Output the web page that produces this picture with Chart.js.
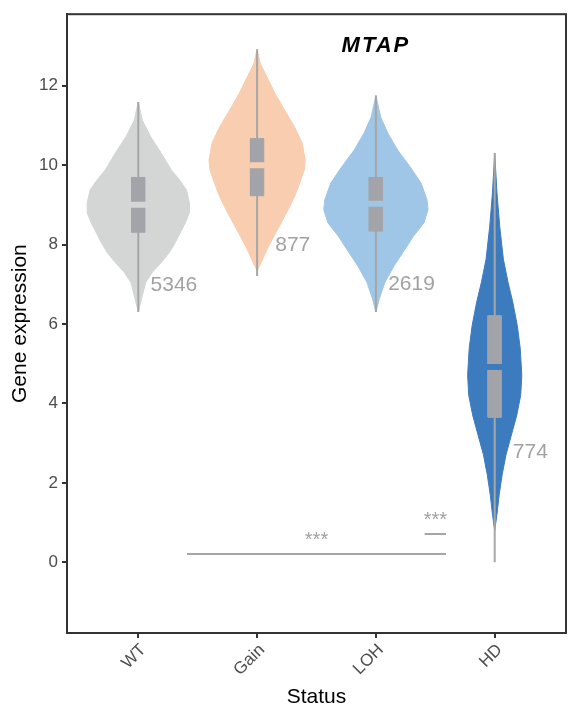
<!DOCTYPE html>
<html><head><meta charset="utf-8">
<script src="https://cdn.jsdelivr.net/npm/chart.js@4"></script>
<style>html,body{margin:0;padding:0;background:#fff}#wrap{width:576px;height:720px;position:relative}</style>
</head><body><div id="wrap"><canvas id="c"></canvas></div>
<script>
const categories = ['WT', 'Gain', 'LOH', 'HD'];
const counts = [5346, 877, 2619, 774];
const yTicks = [0, 2, 4, 6, 8, 10, 12];

// violin outlines: y levels and half-widths (in category units)
const wtY = [11.59, 11.13, 10.71, 10.30, 9.88, 9.63, 9.38, 9.05, 8.80, 8.55, 8.30, 8.05, 7.80, 7.55, 7.30, 7.05, 6.71, 6.30];
const wtW = [0, 0.034, 0.105, 0.194, 0.278, 0.346, 0.405, 0.430, 0.430, 0.397, 0.354, 0.312, 0.262, 0.194, 0.118, 0.063, 0.034, 0];
const gainY = [12.92, 12.55, 12.21, 11.80, 11.38, 10.96, 10.55, 10.13, 9.88, 9.55, 9.21, 8.88, 8.55, 8.21, 7.88, 7.55, 7.34];
const gainW = [0, 0.028, 0.084, 0.152, 0.232, 0.316, 0.380, 0.405, 0.397, 0.359, 0.316, 0.262, 0.203, 0.141, 0.084, 0.034, 0];
const lohY = [11.75, 11.21, 10.80, 10.38, 9.96, 9.55, 9.13, 8.88, 8.55, 8.21, 7.88, 7.46, 7.05, 6.63, 6.30];
const lohW = [0, 0.040, 0.101, 0.183, 0.287, 0.380, 0.430, 0.439, 0.405, 0.316, 0.245, 0.152, 0.076, 0.028, 0];
const hdY = [10.30, 9.30, 8.46, 7.63, 7.05, 6.55, 5.96, 5.38, 4.71, 4.21, 3.71, 3.21, 2.71, 2.21, 1.71, 1.21, 0.80];
const hdW = [0, 0.019, 0.042, 0.073, 0.112, 0.152, 0.190, 0.215, 0.228, 0.219, 0.186, 0.141, 0.095, 0.063, 0.038, 0.019, 0];

// box statistics
const boxQ1 = [8.31, 9.23, 8.34, 3.65];
const boxMedian = [9.00, 10.00, 9.03, 4.92];
const boxQ3 = [9.69, 10.67, 9.69, 6.21];
const lineMin = [6.30, 7.21, 6.30, 0.00];
const lineMax = [11.59, 12.92, 11.75, 10.30];

// count labels and significance brackets
const countLabelY = [6.98, 7.98, 7.00, 2.78];
const sigStart = [1.41, 3.41];
const sigEnd = [3.59, 3.59];
const sigY = [0.21, 0.71];
const sigLabel = ['***', '***'];
const titleText = 'MTAP';
const titleX = 3.0, titleY = 13.0;

// ---- styles ----
const violinColors = ['#d4d6d6', '#f8cdb0', '#9fc6e6', '#3d7bbf'];
const boxColor = '#a3a4a9';
const lineColor = '#a6a6a6';
const FONT = '"Liberation Sans", Arial, Helvetica, sans-serif';
const BOX_HALF = 0.056;

const violinYs = [wtY, gainY, lohY, hdY];
const violinWs = [wtW, gainW, lohW, hdW];

const datasets = [];
violinYs.forEach((ys, i) => {
  const c = i + 1, ws = violinWs[i];
  const pts = [];
  ys.forEach((y, k) => pts.push({x: c + ws[k], y}));
  for (let k = ys.length - 1; k >= 0; k--) pts.push({x: c - ws[k], y: ys[k]});
  datasets.push({data: pts, showLine: true, fill: 'shape', backgroundColor: violinColors[i],
    borderColor: violinColors[i], borderWidth: 1, pointRadius: 0, order: 10});
});
categories.forEach((cat, i) => {
  const c = i + 1;
  datasets.push({data: [{x: c, y: lineMin[i]}, {x: c, y: lineMax[i]}], showLine: true, fill: false,
    borderColor: lineColor, borderWidth: 2, pointRadius: 0, order: 8});
  datasets.push({data: [{x: c - BOX_HALF, y: boxQ1[i]}, {x: c + BOX_HALF, y: boxQ1[i]}, {x: c + BOX_HALF, y: boxQ3[i]}, {x: c - BOX_HALF, y: boxQ3[i]}, {x: c - BOX_HALF, y: boxQ1[i]}],
    showLine: true, fill: 'shape', backgroundColor: boxColor, borderColor: boxColor, borderWidth: 1, pointRadius: 0, order: 6});
  datasets.push({data: [{x: c - BOX_HALF - 0.01, y: boxMedian[i]}, {x: c + BOX_HALF + 0.01, y: boxMedian[i]}], showLine: true, fill: false,
    borderColor: violinColors[i], borderWidth: 6, borderCapStyle: 'butt', pointRadius: 0, order: 4});
});
sigStart.forEach((s, i) => {
  datasets.push({data: [{x: s, y: sigY[i]}, {x: sigEnd[i], y: sigY[i]}], showLine: true, fill: false,
    borderColor: lineColor, borderWidth: 2, pointRadius: 0, order: 4});
});

const annot = {
  id: 'annot',
  afterDatasetsDraw(chart) {
    const {ctx, chartArea: a, scales: {x, y}} = chart;
    ctx.save();
    ctx.strokeStyle = '#333333'; ctx.lineWidth = 2;
    ctx.strokeRect(a.left, a.top, a.right - a.left, a.bottom - a.top);
    ctx.fillStyle = '#a2a2a2';
    ctx.font = '21px ' + FONT;
    ctx.textAlign = 'center'; ctx.textBaseline = 'middle';
    counts.forEach((n, i) => ctx.fillText(String(n), x.getPixelForValue(i + 1.3), y.getPixelForValue(countLabelY[i])));
    ctx.font = '20px ' + FONT; ctx.textBaseline = 'alphabetic';
    sigLabel.forEach((s, i) => ctx.fillText(s, x.getPixelForValue((sigStart[i] + sigEnd[i]) / 2), y.getPixelForValue(sigY[i]) - 8));
    ctx.fillStyle = '#000';
    ctx.font = 'italic bold 22px ' + FONT;
    ctx.textBaseline = 'middle';
    try { ctx.letterSpacing = '2px'; } catch (e) {}
    ctx.fillText(titleText, x.getPixelForValue(titleX), y.getPixelForValue(titleY));
    ctx.restore();
  }
};

new Chart(document.getElementById('c'), {
  type: 'scatter',
  data: {datasets},
  plugins: [annot],
  options: {
    responsive: true, maintainAspectRatio: false, animation: false,
    layout: {padding: {top: 10, right: 10, left: 0, bottom: 0}},
    plugins: {legend: {display: false}, tooltip: {enabled: false}, title: {display: false}},
    scales: {
      x: {
        type: 'linear', min: 0.4, max: 4.6,
        afterBuildTicks: s => { s.ticks = categories.map((c, i) => ({value: i + 1})); },
        afterFit: s => { s.height = 87; },
        ticks: {autoSkip: false, minRotation: 45, maxRotation: 45, padding: 2, labelOffset: 5, color: '#4d4d4d',
          font: {size: 17, family: FONT}, callback: v => categories[Math.round(v) - 1]},
        grid: {drawOnChartArea: false, drawTicks: true, tickLength: 5, color: '#333333', lineWidth: 2},
        border: {display: true, color: '#333333', width: 2},
        title: {display: true, text: 'Status', color: '#000', font: {size: 21, family: FONT}, padding: {top: 0, bottom: 10}}
      },
      y: {
        type: 'linear', min: -1.78, max: 13.8,
        afterBuildTicks: s => { s.ticks = yTicks.map(v => ({value: v})); },
        afterFit: s => { s.width = 67; },
        ticks: {padding: 4, color: '#4d4d4d', font: {size: 17, family: FONT}},
        grid: {drawOnChartArea: false, drawTicks: true, tickLength: 5, color: '#333333', lineWidth: 2},
        border: {display: true, color: '#333333', width: 2},
        title: {display: true, text: 'Gene expression', color: '#000', font: {size: 21, family: FONT}, padding: {top: 8, bottom: 0}}
      }
    }
  }
});
</script></body></html>
